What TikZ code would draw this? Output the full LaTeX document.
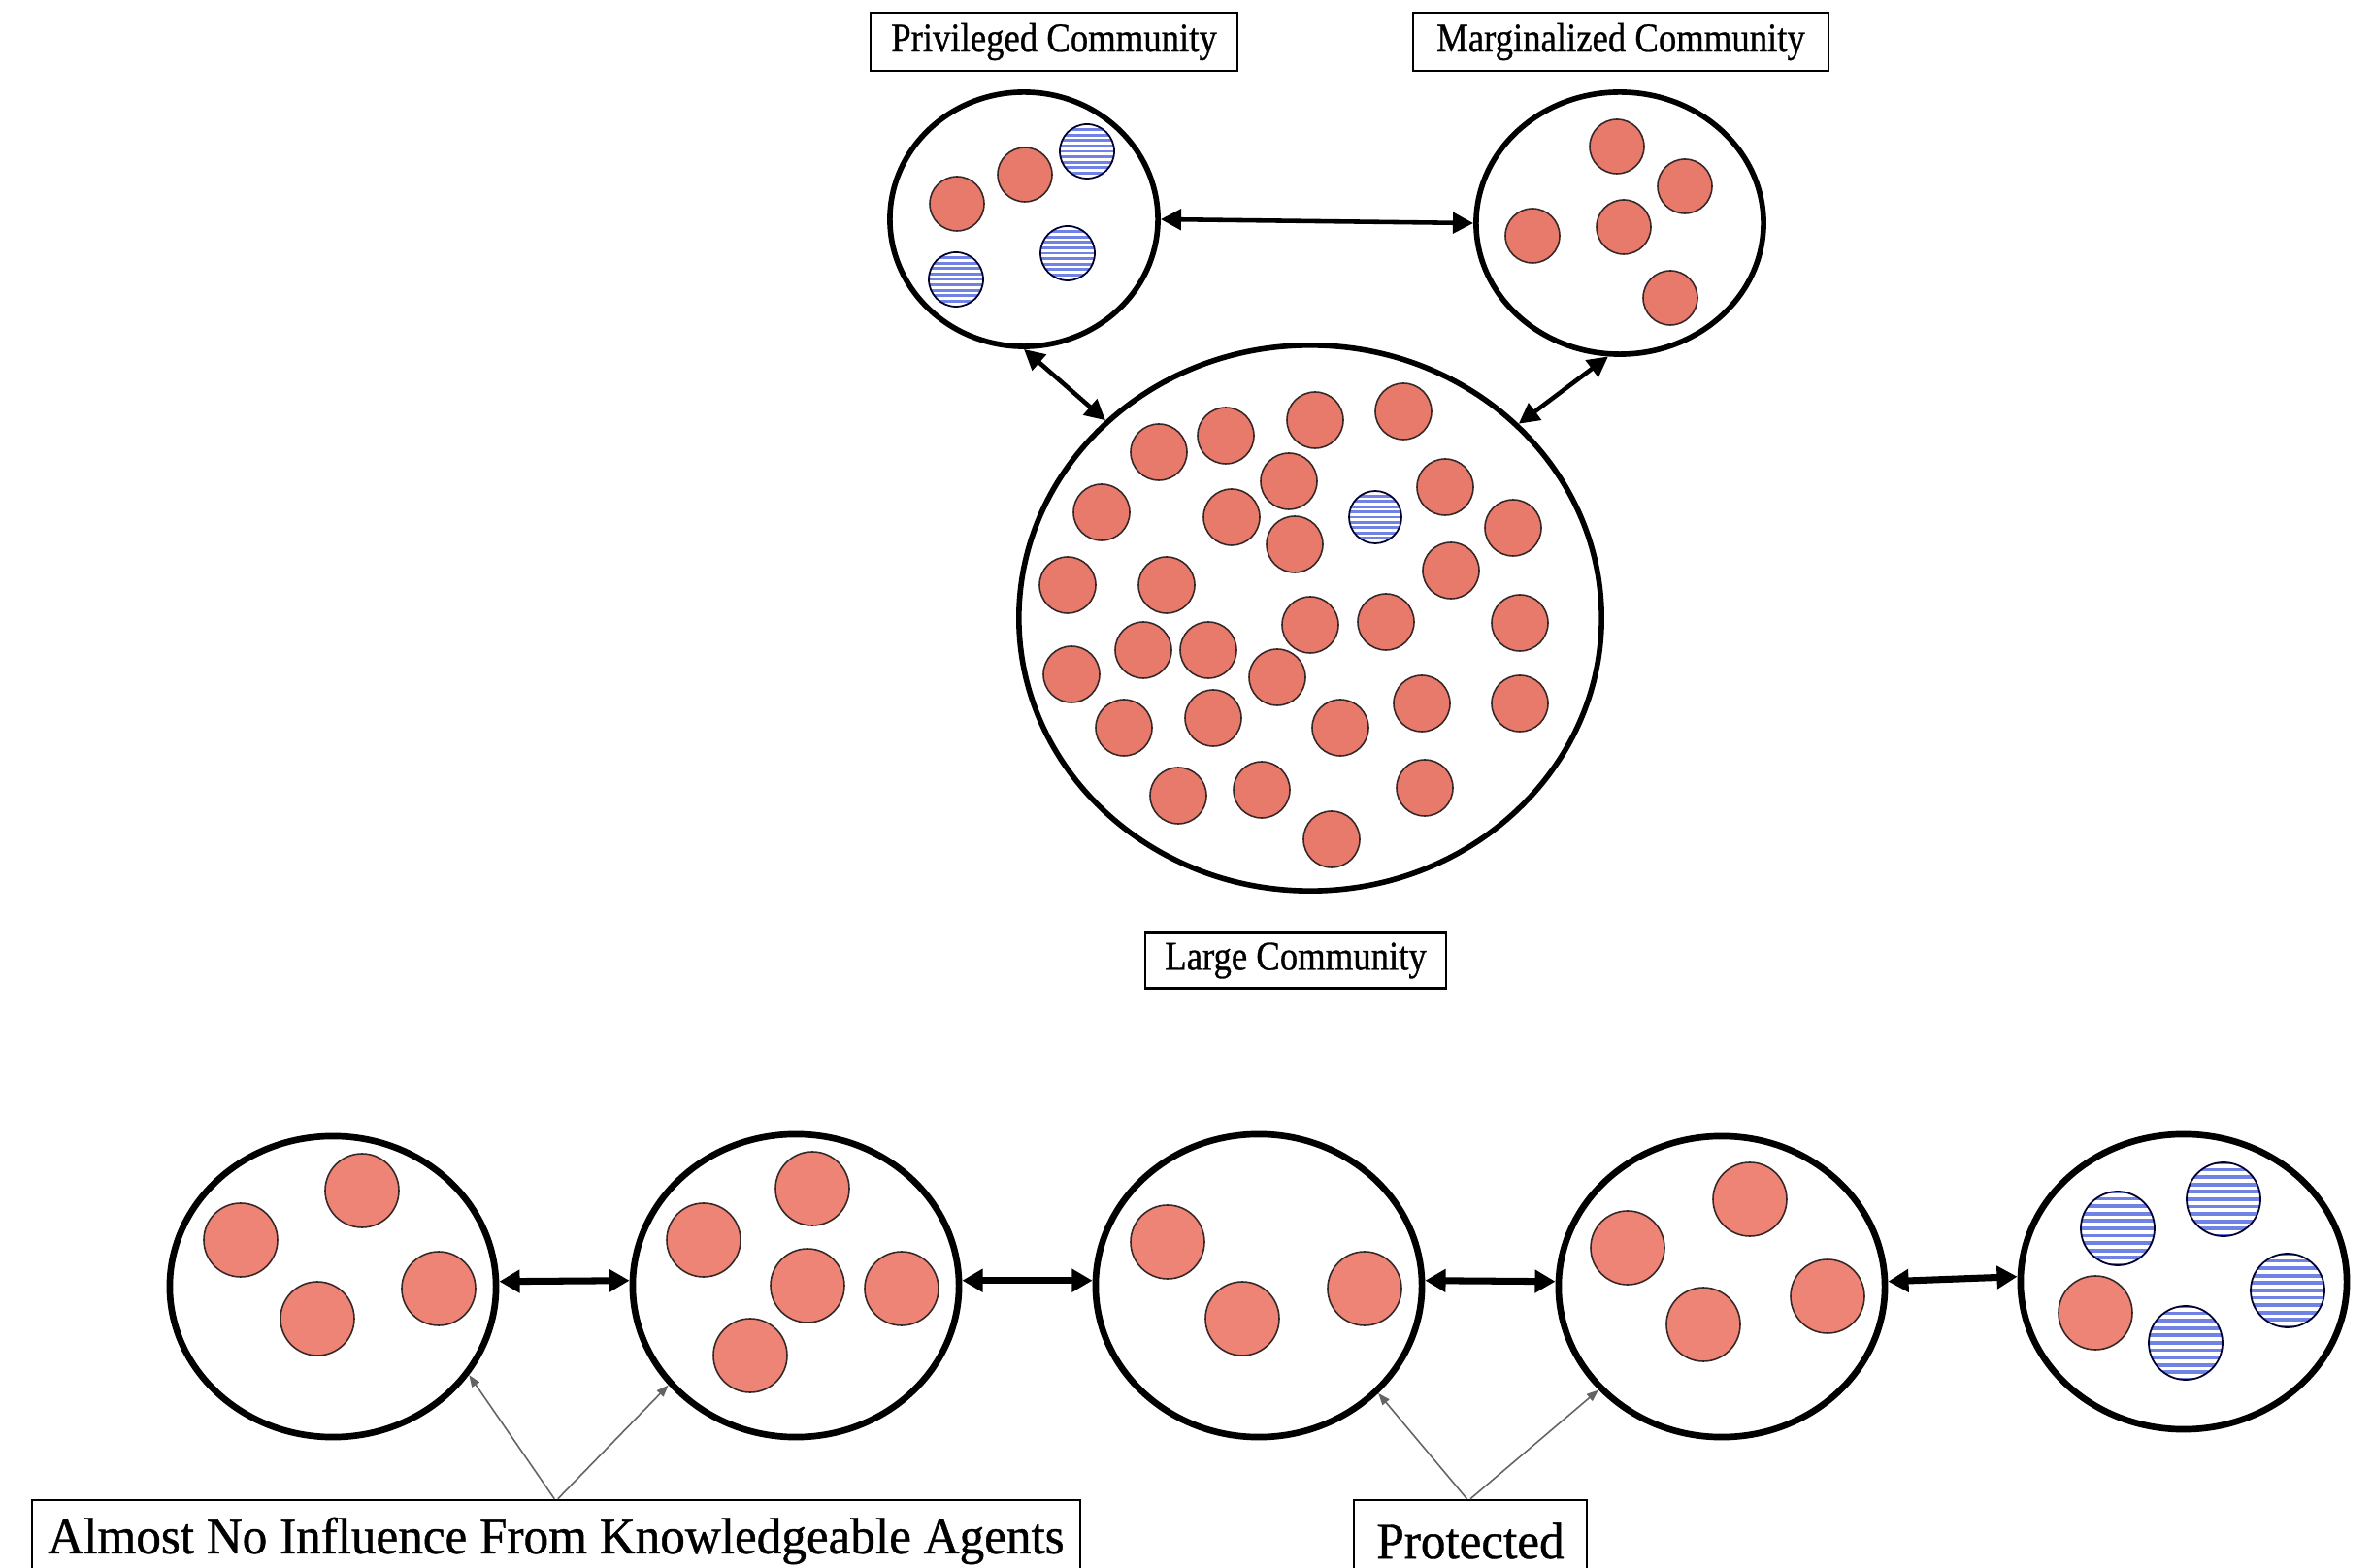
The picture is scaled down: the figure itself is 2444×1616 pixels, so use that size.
\documentclass[tikz,border=0pt]{standalone}
\usepackage{fontspec}
\setmainfont{Liberation Serif}
\newfontfamily\smalllabelfont{Liberation Serif}[FakeStretch=0.87,FakeBold=0.7]
\newfontfamily\biglabelfont{Liberation Serif}[FakeStretch=0.97,FakeBold=0.8]
\usetikzlibrary{arrows.meta,shapes.geometric}

\definecolor{agentred}{RGB}{232,122,108}
\definecolor{agentredb}{RGB}{237,132,118}
\definecolor{stripeblue}{RGB}{112,130,228}
\definecolor{dotedge}{RGB}{55,40,40}
\definecolor{pointer}{RGB}{100,100,100}

% an uninformed agent: plain salmon disc
\newcommand\agent[3][agentred]{\filldraw[fill=#1,draw=dotedge,line width=0.45pt] (#2) circle (#3);}
% a knowledgeable agent: disc with horizontal blue stripes
\newcommand\knower[2]{%
  \begin{scope}[shift={(#1)}]
    \begin{scope}
      \clip (0,0) circle (#2);
      \fill[white] (0,0) circle (#2);
      \foreach \k in {-6,...,6}
        \fill[stripeblue] (-#2,\k*#2/5-#2*0.05) rectangle (#2,\k*#2/5+#2*0.05);
    \end{scope}
    \draw[draw=black!80!blue,line width=0.5pt] (0,0) circle (#2);
  \end{scope}}

\tikzset{
  community/.style={ellipse,draw,line width=1.6pt,inner sep=0pt,fill=white},
  chaincommunity/.style={ellipse,draw,line width=1.9pt,inner sep=0pt,fill=white,
    minimum width=3.36cm,minimum height=3.1cm},
  toplabel/.style={draw,line width=0.6pt,inner sep=0pt,minimum height=0.6cm,
    font=\smalllabelfont\fontsize{12}{13}\selectfont},
  biglabel/.style={draw,line width=0.7pt,inner sep=0pt,minimum height=0.84cm,
    font=\biglabelfont\fontsize{15}{16}\selectfont},
  link/.style={{Triangle[length=6pt,width=6pt]}-{Triangle[length=6pt,width=6pt]},line width=1.3pt},
  chainlink/.style={{Triangle[length=6pt,width=6.5pt]}-{Triangle[length=6pt,width=6.5pt]},line width=2pt},
  pointerline/.style={-{Triangle[length=3.5pt,width=2.6pt]},line width=0.45pt,draw=pointer,fill=pointer}
}

\begin{document}
\begin{tikzpicture}[x=0.01cm,y=-0.01cm]
\useasboundingbox (0,0) rectangle (2444,1616);
\clip (0,0) rectangle (2444,1616);

% ---------- three communities ----------
\node[community,minimum width=2.76cm,minimum height=2.62cm] (priv) at (1055,226) {};
\node[community,minimum width=2.96cm,minimum height=2.70cm] (marg) at (1669,230) {};
\node[community,minimum width=6.00cm,minimum height=5.62cm] (large) at (1350,637) {};

\node[toplabel,minimum width=3.78cm] (privlabel) at (1086,43) {Privileged Community};
\node[toplabel,minimum width=4.28cm] (marglabel) at (1670,43) {Marginalized Community};
\node[toplabel,minimum width=3.10cm,minimum height=0.57cm] (largelabel) at (1335,990) {Large Community};

\draw[link] (priv.east) -- (marg.west);
\draw[link] (priv.south) -- (large.136);
\draw[link] (marg.-95) -- (large.43);

% privileged community members
\agent{986,210}{28}
\agent{1056,180}{28}
\knower{1120,156}{28}
\knower{985,288}{28}
\knower{1100,261}{28}

% marginalized community members
\agent{1666,151}{28}
\agent{1736,192}{28}
\agent{1673,234}{28}
\agent{1579,243}{28}
\agent{1721,307}{28}

% large community members
\foreach \x/\y in {1194/466,1263/449,1355/433,1446/424,1328/496,1135/528,1269/533,
  1334/561,1489/502,1559/544,1495/588,1100/603,1202/603,1350/644,1428/641,
  1566/642,1104/695,1178/670,1245/670,1316/698,1158/750,1250/740,1381/750,
  1465/725,1566/725,1214/820,1300/814,1468/812,1372/865}{
  \agent{\x,\y}{29}
}
\knower{1417,533}{27}

% ---------- chain of communities ----------
\node[chaincommunity] (b1) at (343,1326) {};
\node[chaincommunity,minimum height=3.12cm] (b2) at (820,1325) {};
\node[chaincommunity,minimum height=3.12cm] (b3) at (1297,1325) {};
\node[chaincommunity] (b4) at (1774,1326) {};
\node[chaincommunity,minimum height=3.04cm] (b5) at (2250,1321) {};

\draw[chainlink] ([yshift=1.5pt]b1.east) -- ([yshift=1.5pt]b2.west);
\draw[chainlink] ([yshift=1.5pt]b2.east) -- ([yshift=1.5pt]b3.west);
\draw[chainlink] ([yshift=1.5pt]b3.east) -- ([yshift=1.5pt]b4.west);
\draw[chainlink] ([yshift=1.5pt]b4.east) -- ([yshift=1.5pt]b5.west);

\foreach \x/\y in {248/1278,373/1227,327/1359,452/1328,
  725/1278,837/1225,832/1325,929/1328,773/1397,
  1203/1280,1280/1359,1406/1328,
  1677/1286,1803/1236,1755/1365,1883/1336,
  2159/1353}{
  \agent[agentredb]{\x,\y}{38}
}
\knower{2182,1266}{38}
\knower{2291,1236}{38}
\knower{2357,1330}{38}
\knower{2252,1384}{38}

% ---------- annotations ----------
\node[biglabel,minimum width=10.79cm] (remote) at (573,1588)
  {Almost No Influence From Knowledgeable Agents};
\node[biglabel,minimum width=2.40cm] (protected) at (1515,1588) {Protected};

\draw[pointerline] ([xshift=-0.5pt]remote.north) -- (b1.-33);
\draw[pointerline] ([xshift=0.5pt]remote.north) -- (b2.-142);
\draw[pointerline] ([xshift=-1pt]protected.north) -- (b3.-42);
\draw[pointerline] ([xshift=0pt]protected.north) -- (b4.-140);
\end{tikzpicture}
\end{document}
